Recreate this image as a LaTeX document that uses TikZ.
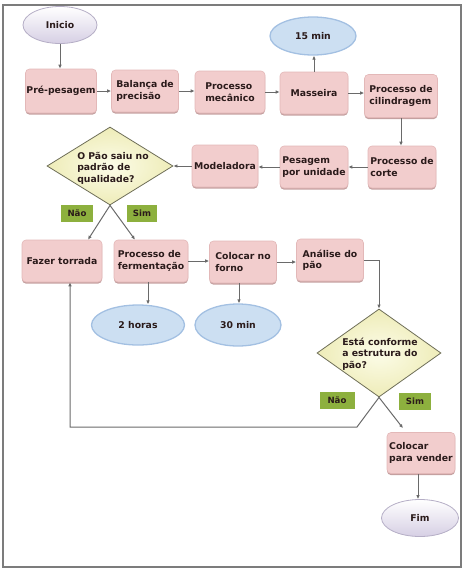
\documentclass[tikz,border=0pt]{standalone}
\usepackage{fontspec}
\setmainfont{DejaVu Sans}
\usetikzlibrary{shapes.geometric,arrows.meta,shadows}
\definecolor{boxfill}{HTML}{F2CDCD}
\definecolor{boxedge}{HTML}{E3B8B8}
\definecolor{boxshadow}{HTML}{C4A0A0}
\definecolor{blfill}{HTML}{CCDFF2}
\definecolor{bledge}{HTML}{A3C0E2}
\definecolor{dinner}{HTML}{FCFCE8}
\definecolor{douter}{HTML}{EEECB8}
\definecolor{dedge}{HTML}{6E6E58}
\definecolor{gfill}{HTML}{8DB03E}
\definecolor{txtc}{HTML}{2A1A1A}
\definecolor{lin}{HTML}{6A6A6A}
\definecolor{termbot}{HTML}{D6CFE4}
\definecolor{termedge}{HTML}{B5AEC6}
\definecolor{frame}{HTML}{7C7C7C}
\begin{document}
\begin{tikzpicture}[x=1pt,y=-1pt,
  every node/.style={font=\fontsize{9.3}{11.5}\selectfont\bfseries, text=txtc},
  box/.style={rectangle, rounded corners=4pt, fill=boxfill, draw=boxedge, line width=0.6pt,
    minimum width=68pt, minimum height=42pt, inner sep=1pt, align=left,
    drop shadow={shadow xshift=0pt, shadow yshift=-1.6pt, fill=boxshadow, opacity=1}},
  blue/.style={ellipse, fill=blfill, draw=bledge, line width=1.3pt, minimum width=88pt, minimum height=40pt, inner sep=0pt},
  term/.style={ellipse, top color=white, bottom color=termbot, draw=termedge, line width=0.8pt, minimum width=74pt, minimum height=37pt, inner sep=0pt},
  dia/.style={diamond, inner color=dinner, outer color=douter, draw=dedge, line width=0.8pt, inner sep=0pt},
  dtext/.style={align=left, inner sep=0pt},
  lab/.style={rectangle, fill=gfill, minimum width=32pt, minimum height=17pt, inner sep=0pt, font=\fontsize{8.6}{10}\selectfont\bfseries},
  arr/.style={draw=lin, line width=1pt, -{Latex[length=4pt,width=3.6pt]}}
]
\useasboundingbox (0,0) rectangle (466,582);
\draw[frame, line width=1.6pt] (3,5) rectangle (461,567);

% terminals
\node[term] (inicio) at (60,25) {Inicio};
\node[term, minimum width=77pt] (fim) at (420,518) {Fim};

% first row
\node[box, minimum height=44pt] (pre) at (61,91) {Pré-pesagem};
\node[box, minimum width=67pt] (bal) at (145,91) {Balança de\\precisão};
\node[box, minimum width=70pt] (mec) at (230,92) {Processo\\mecânico};
\node[box] (mas) at (314,93) {Masseira};
\node[box, minimum width=73pt, minimum height=43pt] (cil) at (401,96) {Processo de\\cilindragem};
\node[blue, minimum width=86pt, minimum height=38pt] (min15) at (313,36) {15 min};

% second row
\node[box] (cor) at (402,167) {Processo de\\corte};
\node[box] (pes) at (314,167) {Pesagem\\por unidade};
\node[box, minimum width=66pt] (mod) at (225,166) {Modeladora};
\node[dia, minimum width=126pt, minimum height=78pt] (q1) at (110,166) {};
\node[dtext] (q1t) at (113,168) {O Pão saiu no\\padrão de\\qualidade?};
\node[lab] (nao1) at (77,213) {Não};
\node[lab, minimum width=30pt] (sim1) at (142,213) {Sim};

% third row
\node[box, minimum width=80pt] (faz) at (62,261) {Fazer torrada};
\node[box, minimum width=74pt] (fer) at (151,261) {Processo de\\fermentação};
\node[box, minimum width=67pt] (for) at (243,262) {Colocar no\\forno};
\node[box, minimum width=67pt] (ana) at (330,260) {Análise do\\pão};
\node[blue, minimum width=93pt] (h2) at (138,325) {2 horas};
\node[blue, minimum width=86pt, minimum height=42pt] (m30) at (238,325) {30 min};

% lower decision
\node[dia, minimum width=124pt, minimum height=88pt] (q2) at (379,353) {};
\node[dtext] (q2t) at (380,354) {Está conforme\\a estrutura do\\pão?};
\node[lab, minimum width=35pt] (nao2) at (337,400) {Não};
\node[lab] (sim2) at (415,401) {Sim};
\node[box, minimum height=41pt] (ven) at (421,453) {Colocar\\para vender};

% connectors
\draw[arr] (inicio.south) -- (inicio.south |- pre.north);
\draw[arr] (pre.east) -- (pre.east -| bal.west);
\draw[arr] (bal.east) -- (bal.east -| mec.west);
\draw[arr] (mec.east) -- (mec.east -| mas.west);
\draw[arr] (mas.north) -- (mas.north |- min15.south);
\draw[arr] (mas.east) -- (mas.east -| cil.west);
\draw[arr] (cil.south) -- (cil.south |- cor.north);
\draw[arr] (cor.west) -- (cor.west -| pes.east);
\draw[arr] (pes.west) -- (pes.west -| mod.east);
\draw[arr] (mod.west) -- (q1.east);
\draw[arr] (q1.south) -- ([xshift=26pt]faz.north);
\draw[arr] (q1.south) -- ([xshift=-16pt]fer.north);
\draw[arr] (fer.east) -- (fer.east -| for.west);
\draw[arr] ([xshift=-3pt]fer.south) -- ([xshift=-3pt]fer.south |- h2.north);
\draw[arr] ([xshift=-4pt]for.south) -- ([xshift=-4pt]for.south |- m30.north);
\draw[arr] (for.east) -- (for.east -| ana.west);
\draw[arr] (ana.east) -- (ana.east -| q2.north) -- (q2.north);
\draw[arr] (q2.south) -- ([xshift=-18pt,yshift=4pt]ven.north);
\coordinate (b1) at (357,427);
\coordinate (b2) at ([xshift=8pt]faz.south |- b1);
\draw[arr] (q2.south) -- (b1) -- (b2) -- ([xshift=8pt]faz.south);
\draw[arr] ([xshift=-3pt]ven.south) -- ([xshift=-3pt]ven.south |- fim.north);
\end{tikzpicture}
\end{document}
